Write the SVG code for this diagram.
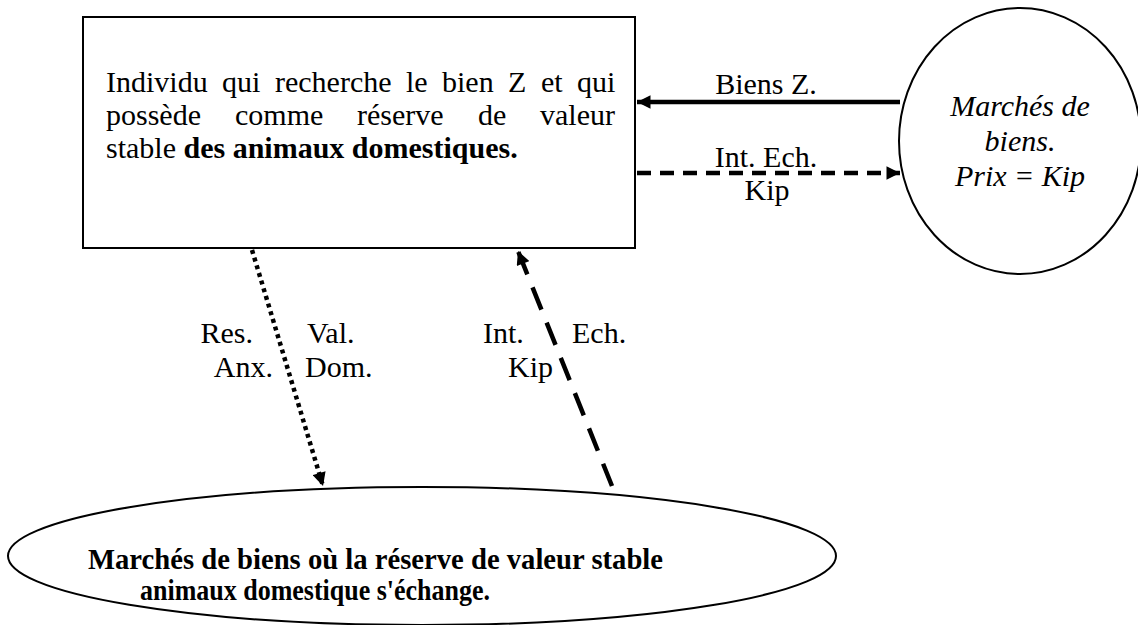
<svg xmlns="http://www.w3.org/2000/svg" width="1138" height="625" viewBox="0 0 1138 625">
<defs>
<style>
.t{font-family:"Liberation Serif","Times New Roman",serif;font-size:30px;fill:#000}
.b{font-weight:bold}
.i{font-style:italic}
.shape{fill:#fff;stroke:#000;stroke-width:2}
.line{fill:none;stroke:#000;stroke-width:4.5}
</style>
<marker id="ah" viewBox="0 0 10 10" refX="10" refY="5" markerWidth="3.2" markerHeight="3" orient="auto" markerUnits="strokeWidth">
<path d="M0,0 L10,5 L0,10 Z" fill="#000"/>
</marker>
</defs>
<rect width="1138" height="625" fill="#fff"/>
<g id="individu">
<rect class="shape" x="83" y="17" width="552" height="231"/>
<text class="t"><tspan x="106" y="92">Individu</tspan><tspan x="222" y="92">qui</tspan><tspan x="275" y="92">recherche</tspan><tspan x="406" y="92">le</tspan><tspan x="442" y="92">bien</tspan><tspan x="508" y="92">Z</tspan><tspan x="541" y="92">et</tspan><tspan x="577" y="92">qui</tspan></text>
<text class="t"><tspan x="106" y="125">possède</tspan><tspan x="235" y="125">comme</tspan><tspan x="357" y="125">réserve</tspan><tspan x="478" y="125">de</tspan><tspan x="540" y="125">valeur</tspan></text>
<text class="t" x="106" y="158">stable <tspan class="b">des animaux domestiques.</tspan></text>
</g>
<g id="marches-biens">
<ellipse class="shape" cx="1020" cy="141" rx="121" ry="133"/>
<text class="t i" text-anchor="middle" font-size="29"><tspan x="1020" y="116">Marchés de</tspan><tspan x="1020" y="151">biens.</tspan><tspan x="1020" y="186">Prix = Kip</tspan></text>
</g>
<g id="marches-animaux">
<ellipse class="shape" cx="422" cy="556" rx="414" ry="69"/>
<text class="t b" x="88" y="569" font-size="28" textLength="575" lengthAdjust="spacingAndGlyphs">Marchés de biens où la réserve de valeur stable</text>
<text class="t b" x="140" y="600" font-size="28" textLength="350" lengthAdjust="spacingAndGlyphs">animaux domestique s'échange.</text>
</g>
<g id="connectors">
<line class="line" x1="900" y1="102" x2="637" y2="102" marker-end="url(#ah)"/>
<line class="line" x1="637" y1="173" x2="900" y2="173" stroke-dasharray="14 9" marker-end="url(#ah)"/>
<line class="line" x1="252" y1="250" x2="323" y2="486" stroke-dasharray="4 4" marker-end="url(#ah)"/>
<line class="line" x1="612" y1="486" x2="518" y2="251" stroke-dasharray="24 14" marker-end="url(#ah)"/>
</g>
<g id="labels">
<text class="t" x="766" y="94" text-anchor="middle">Biens Z.</text>
<text class="t" x="766" y="167" text-anchor="middle">Int. Ech.</text>
<text class="t" x="767" y="200" text-anchor="middle">Kip</text>
<text class="t" x="253" y="343" text-anchor="end">Res.</text>
<text class="t" x="307" y="343">Val.</text>
<text class="t" x="273" y="377" text-anchor="end">Anx.</text>
<text class="t" x="305" y="377">Dom.</text>
<text class="t" x="483" y="343">Int.</text>
<text class="t" x="572" y="343">Ech.</text>
<text class="t" x="508" y="377">Kip</text>
</g>
</svg>
